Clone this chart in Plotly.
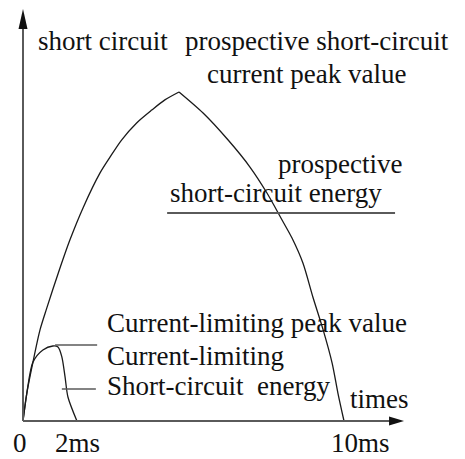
import plotly.graph_objects as go

# ---- data (time in ms, current in relative units; prospective peak = 100) ----
rise_t = [0, 0.12, 0.31, 0.53, 0.74, 1.10, 1.46, 1.88, 2.40, 2.71, 3.07, 3.54, 4.01, 4.42, 4.86]
rise_i = [0, 8.5, 17.9, 27.7, 34.3, 45.0, 55.0, 65.0, 75.4, 80.2, 85.4, 90.6, 94.5, 97.6, 100]
fall_t = [4.86, 5.61, 6.39, 7.07, 7.60, 8.07, 8.38, 8.72, 9.03, 9.35, 9.63, 9.81, 10.0]
fall_i = [100, 93.6, 85.4, 77.2, 69.3, 61.1, 55.6, 48.0, 37.7, 27.7, 17.6, 8.5, 0]
lim_t = [0, 0.12, 0.31, 0.62, 0.93, 1.09, 1.21, 1.31, 1.40, 1.68]
lim_i = [0, 8.5, 17.9, 21.6, 22.8, 22.5, 19.5, 13.4, 7.3, 0]

peak_lead_t = [1.0, 2.31]
peak_lead_i = [23.1, 23.1]
energy_lead_t = [1.21, 2.27]
energy_lead_i = [9.7, 9.7]
prosp_lead_t = [4.49, 11.59]
prosp_lead_i = [63.2, 63.2]

tick_vals = [-0.09, 1.71, 10.5]
tick_labels = ["0", "2ms", "10ms"]

label_texts = [
    "short circuit",
    "prospective short-circuit",
    "current peak value",
    "prospective",
    "short-circuit energy",
    "Current-limiting peak value",
    "Current-limiting",
    "Short-circuit  energy",
    "times",
]
label_t = [0.40, 4.98, 5.67, 7.88, 4.52, 2.55, 2.55, 2.55, 10.12]
label_i = [115.5, 115.5, 105.5, 78.1, 69.3, 29.8, 19.8, 10.6, 6.7]

# page body has an 8px margin, so the figure is 8px smaller on each side
X_RANGE = [-0.4673, 13.769]
Y_RANGE = [-11.55, 125.53]
X_TIP = 11.87
Y_TIP = 125.2

FONT = "Liberation Serif, Times New Roman, serif"
CURVE = "#1a1a1a"
GREY = "#5a5a5a"

fig = go.Figure()

for tx, iy in [(rise_t, rise_i), (fall_t, fall_i), (lim_t, lim_i)]:
    fig.add_trace(go.Scatter(x=tx, y=iy, mode="lines",
                             line=dict(color=CURVE, width=1.3, shape="spline", smoothing=0.8),
                             hoverinfo="skip"))

for tx, iy, w in [(peak_lead_t, peak_lead_i, 1.5), (energy_lead_t, energy_lead_i, 1.5),
                  (prosp_lead_t, prosp_lead_i, 2)]:
    fig.add_trace(go.Scatter(x=tx, y=iy, mode="lines",
                             line=dict(color=GREY, width=w), hoverinfo="skip"))

# axes with arrowheads
fig.add_shape(type="line", x0=0, y0=0, x1=0, y1=Y_TIP - 4, line=dict(color=GREY, width=2))
fig.add_shape(type="line", x0=0, y0=0, x1=X_TIP - 0.3, y1=0, line=dict(color=GREY, width=2))
fig.add_shape(type="path", xsizemode="pixel", ysizemode="pixel", xanchor=0, yanchor=Y_TIP,
              path="M0,0 L-4.5,-20 L4.5,-20 Z", fillcolor="#111", line=dict(width=0))
fig.add_shape(type="path", xsizemode="pixel", ysizemode="pixel", xanchor=X_TIP, yanchor=0,
              path="M0,0 L-15,4.5 L-15,-4.5 Z", fillcolor="#111", line=dict(width=0))

for txt, tx, iy in zip(label_texts, label_t, label_i):
    fig.add_annotation(x=tx, y=iy, text=txt, showarrow=False, xanchor="left", yanchor="middle",
                       font=dict(family=FONT, size=27, color="#111"))

for tv, tl in zip(tick_vals, tick_labels):
    fig.add_annotation(x=tv, y=-6.8, text=tl, showarrow=False, xanchor="center", yanchor="middle",
                       borderpad=0, font=dict(family=FONT, size=27, color="#111"))

fig.update_layout(
    width=457, height=451,
    margin=dict(l=0, r=0, t=0, b=0),
    paper_bgcolor="white", plot_bgcolor="white",
    showlegend=False,
    xaxis=dict(range=X_RANGE, visible=False, fixedrange=True),
    yaxis=dict(range=Y_RANGE, visible=False, fixedrange=True),
)

fig.write_html("out.html")
